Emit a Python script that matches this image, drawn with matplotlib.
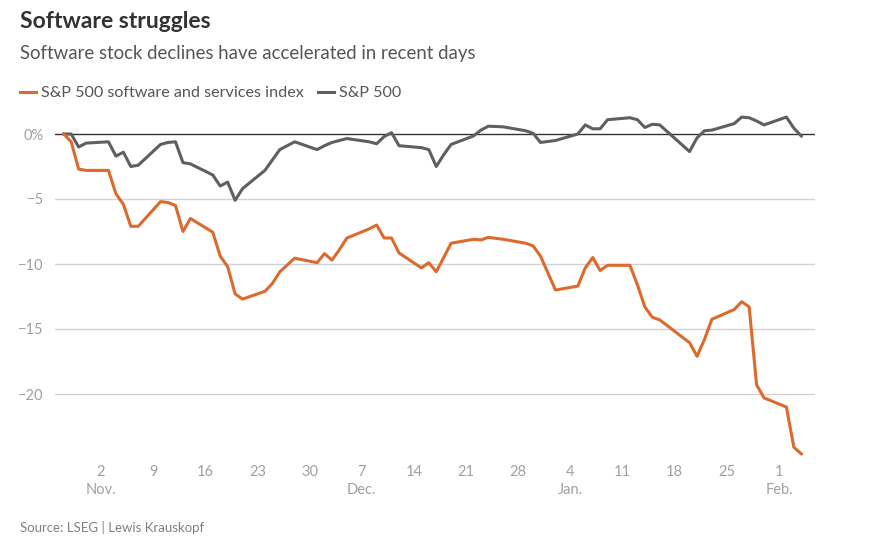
import numpy as np
import pandas as pd
import matplotlib
matplotlib.use("Agg")
import matplotlib.pyplot as plt
import matplotlib.dates as mdates
from matplotlib.transforms import blended_transform_factory

plt.rcParams['font.family'] = ['Lato', 'DejaVu Sans']

# trading days shown on the chart
dates = pd.to_datetime([
    "2025-10-28", "2025-10-29", "2025-10-30", "2025-10-31",
    "2025-11-03", "2025-11-04", "2025-11-05", "2025-11-06", "2025-11-07",
    "2025-11-10", "2025-11-11", "2025-11-12", "2025-11-13", "2025-11-14",
    "2025-11-17", "2025-11-18", "2025-11-19", "2025-11-20", "2025-11-21",
    "2025-11-24", "2025-11-25", "2025-11-26", "2025-11-28",
    "2025-12-01", "2025-12-02", "2025-12-03", "2025-12-04", "2025-12-05",
    "2025-12-08", "2025-12-09", "2025-12-10", "2025-12-11", "2025-12-12",
    "2025-12-15", "2025-12-16", "2025-12-17", "2025-12-18", "2025-12-19",
    "2025-12-22", "2025-12-23", "2025-12-24", "2025-12-26",
    "2025-12-29", "2025-12-30", "2025-12-31",
    "2026-01-02",
    "2026-01-05", "2026-01-06", "2026-01-07", "2026-01-08", "2026-01-09",
    "2026-01-12", "2026-01-13", "2026-01-14", "2026-01-15", "2026-01-16",
    "2026-01-20", "2026-01-21", "2026-01-22", "2026-01-23",
    "2026-01-26", "2026-01-27", "2026-01-28", "2026-01-29", "2026-01-30",
    "2026-02-02", "2026-02-03", "2026-02-04",
])

software = [
    0, -0.6, -2.7, -2.8,
    -2.8, -4.6, -5.4, -7.1, -7.1,
    -5.2, -5.27, -5.5, -7.5, -6.5,
    -7.55, -9.4, -10.2, -12.3, -12.7,
    -12.1, -11.5, -10.6, -9.55,
    -9.9, -9.2, -9.7, -8.9, -8.0,
    -7.3, -7.0, -8.0, -8.0, -9.15,
    -10.3, -9.9, -10.6, -9.5, -8.4,
    -8.1, -8.15, -7.95, -8.1,
    -8.4, -8.6, -9.4,
    -12.0,
    -11.7, -10.3, -9.5, -10.5, -10.1,
    -10.1, -11.6, -13.3, -14.1, -14.3,
    -16.05, -17.1, -15.8, -14.25,
    -13.5, -12.9, -13.3, -19.3, -20.3,
    -21.0, -24.1, -24.6,
]

sp500 = [
    0, 0, -1.0, -0.7,
    -0.6, -1.7, -1.4, -2.5, -2.4,
    -0.8, -0.65, -0.6, -2.2, -2.3,
    -3.15, -4.0, -3.7, -5.1, -4.2,
    -2.8, -2.0, -1.2, -0.6,
    -1.2, -0.9, -0.65, -0.5, -0.35,
    -0.6, -0.75, -0.2, 0.1, -0.9,
    -1.05, -1.2, -2.5, -1.6, -0.8,
    -0.15, 0.3, 0.6, 0.55,
    0.25, 0.05, -0.65,
    -0.5,
    0.0, 0.7, 0.4, 0.4, 1.1,
    1.25, 1.1, 0.5, 0.75, 0.7,
    -1.35, -0.3, 0.25, 0.3,
    0.8, 1.3, 1.25, 1.0, 0.7,
    1.3, 0.45, -0.15,
]

tick_dates = pd.to_datetime([
    "2025-11-02", "2025-11-09", "2025-11-16", "2025-11-23", "2025-11-30",
    "2025-12-07", "2025-12-14", "2025-12-21", "2025-12-28",
    "2026-01-04", "2026-01-11", "2026-01-18", "2026-01-25", "2026-02-01",
])
tick_labels = ["2", "9", "16", "23", "30", "7", "14", "21", "28",
               "4", "11", "18", "25", "1"]
month_dates = pd.to_datetime(["2025-11-02", "2025-12-07", "2026-01-04", "2026-02-01"])
month_labels = ["Nov.", "Dec.", "Jan.", "Feb."]

y_ticks = [0, -5, -10, -15, -20]
y_labels = ["0%", "\u22125", "\u221210", "\u221215", "\u221220"]

ORANGE = "#dd6a2c"
GREY = "#5f5f5f"
TICK = "#a0a0a0"

W, H = 881, 546
fig = plt.figure(figsize=(W / 100, H / 100), dpi=100)
fig.patch.set_facecolor("white")

# axes placed in pixel terms
left, right, top, bottom = 55, 815, 114.5, 459
ax = fig.add_axes([left / W, 1 - bottom / H, (right - left) / W, (bottom - top) / H])

x0 = mdates.date2num(pd.Timestamp("2025-11-02"))
ax.set_xlim(x0 - 46 / 7.45, x0 + 714 / 7.45)
ax.set_ylim(-25, 1.5)

for y in y_ticks[1:]:
    ax.axhline(y, color="#d2d2d2", lw=1, zorder=1)
ax.axhline(0, color="#333333", lw=1, zorder=2)

ax.plot(dates, software, color=ORANGE, lw=2.2, label="S&P 500 software and services index",
        zorder=4, solid_joinstyle="round")
ax.plot(dates, sp500, color=GREY, lw=2.2, label="S&P 500", zorder=3, solid_joinstyle="round")

for s in ax.spines.values():
    s.set_visible(False)
ax.set_yticks(y_ticks)
ax.set_yticklabels(y_labels)
ax.set_xticks(tick_dates)
ax.set_xticklabels(tick_labels)
ax.tick_params(axis="both", length=0, labelsize=10.5, colors=TICK)
ax.tick_params(axis="y", pad=8)
ax.tick_params(axis="x", pad=4)

trans = blended_transform_factory(ax.transData, fig.transFigure)
for d, lab in zip(month_dates, month_labels):
    ax.text(d, 1 - 490 / H, lab, transform=trans, ha="center", va="center",
            fontsize=10.5, color=TICK)

fig.text(20 / W, 1 - 22 / H, "Software struggles", fontsize=16.5, fontweight="bold",
         color="#333333", va="center", ha="left")
fig.text(20 / W, 1 - 53 / H, "Software stock declines have accelerated in recent days",
         fontsize=13.4, color="#555555", va="center", ha="left")

fig.legend(loc="center left", bbox_to_anchor=(20 / W, 1 - 93 / H), ncol=2, frameon=False,
           fontsize=11.6, handlelength=1.0, handletextpad=0.3, columnspacing=0.9,
           borderpad=0, borderaxespad=0, labelcolor="#555555")

fig.text(20 / W, 1 - 527 / H, "Source: LSEG | Lewis Krauskopf", fontsize=9.5,
         color="#808080", va="center", ha="left")

fig.savefig("out.png", dpi=100)
